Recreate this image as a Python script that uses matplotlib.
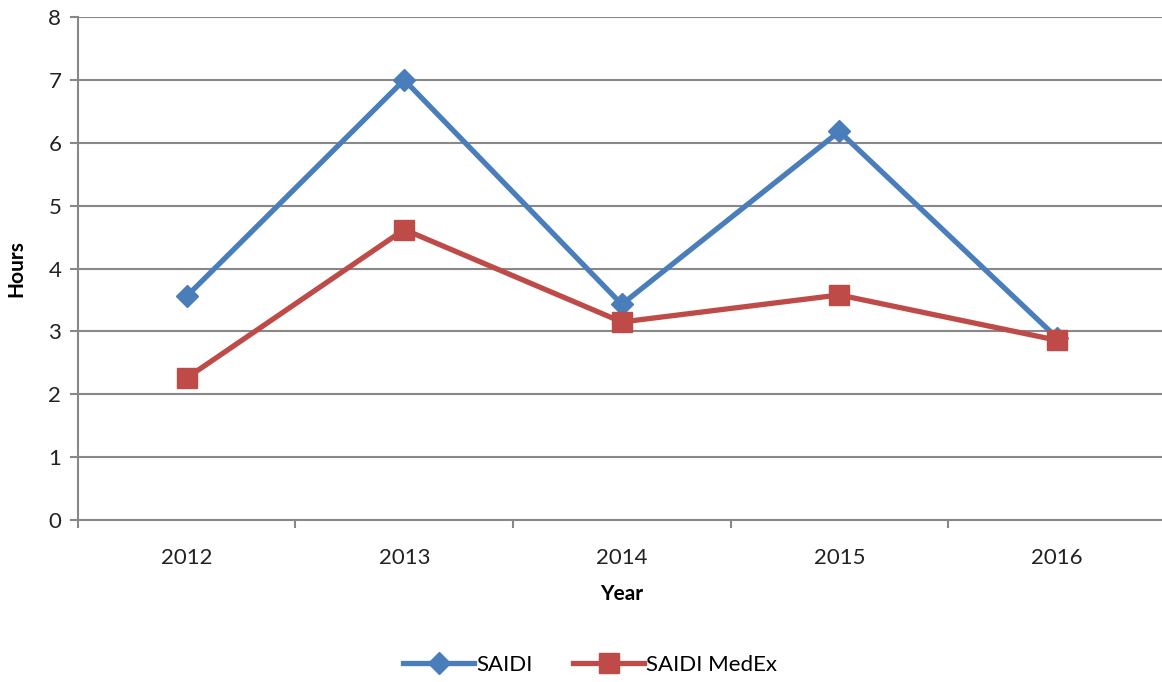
import matplotlib
matplotlib.use("Agg")
import matplotlib.pyplot as plt
import numpy as np

YEARS = ["2012", "2013", "2014", "2015", "2016"]
SAIDI = [3.56, 7.0, 3.43, 6.18, 2.9]
SAIDI_MEDEX = [2.26, 4.62, 3.15, 3.58, 2.86]

BLUE = "#4A7EBB"
RED = "#BE4B48"
GRID = "#888888"

plt.rcParams["font.family"] = ["Lato", "DejaVu Sans"]

fig = plt.figure(figsize=(11.62, 6.82), dpi=100)
ax = fig.add_axes([0.0671, 0.2375, 0.936, 0.7375])

x = np.arange(len(YEARS))
ax.plot(x, SAIDI, color=BLUE, linewidth=3.8, marker="D", markersize=11,
        label="SAIDI", zorder=3)
ax.plot(x, SAIDI_MEDEX, color=RED, linewidth=3.8, marker="s", markersize=14,
        label="SAIDI MedEx", zorder=4)

ax.set_xlim(-0.5, len(YEARS) - 0.5)
ax.set_ylim(0, 8)
ax.set_yticks(range(0, 9))
ax.yaxis.grid(True, color=GRID, linewidth=1.5)
ax.set_axisbelow(True)

ax.set_xticks(x)
ax.set_xticklabels(YEARS, fontsize=16, color="#222222")
ax.set_xticks(np.arange(-0.5, len(YEARS)), minor=True)
ax.tick_params(axis="x", which="major", length=0, pad=20)
ax.tick_params(axis="x", which="minor", length=6, width=1.5, color=GRID)
ax.tick_params(axis="y", length=6, width=1.5, color=GRID, labelsize=16,
               labelcolor="#222222", pad=6)

for sp in ("top", "right"):
    ax.spines[sp].set_visible(False)
for sp in ("left", "bottom"):
    ax.spines[sp].set_color(GRID)
    ax.spines[sp].set_linewidth(1.5)

ax.set_xlabel("Year", fontsize=15, fontweight="bold", labelpad=12)
ax.set_ylabel("Hours", fontsize=15, fontweight="bold", labelpad=16)

fig.legend(loc="center", bbox_to_anchor=(0.508, 0.025), ncol=2, frameon=False,
           fontsize=16, handlelength=3.2, columnspacing=1.8, handletextpad=0.1)

fig.savefig("out.png", dpi=100)
